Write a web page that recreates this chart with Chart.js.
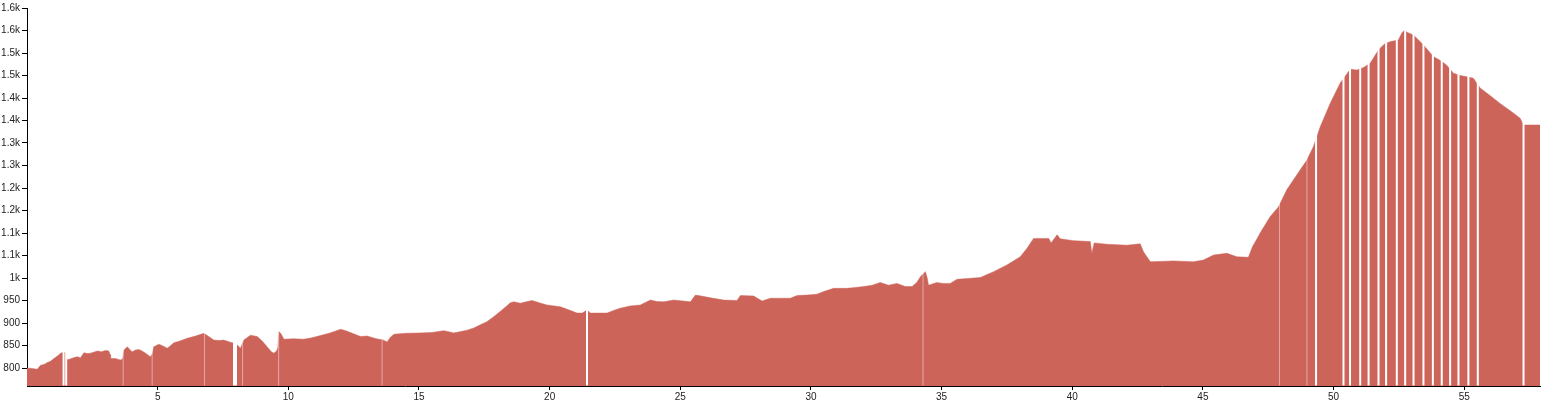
<!DOCTYPE html>
<html>
<head>
<meta charset="utf-8">
<script src="https://cdn.jsdelivr.net/npm/chart.js@4.4.1/dist/chart.umd.min.js"></script>
<style>
  html, body { margin: 0; padding: 0; background: #ffffff; }
  #wrap { width: 1542px; height: 403px; }
</style>
</head>
<body>
<div id="wrap"><canvas id="c" width="1542" height="403"></canvas></div>
<script>
// ---- data (distance in km, elevation in m) ----
const distanceKm = [
  0.00,0.20,0.39,0.52,0.65,0.78,0.90,1.03,1.15,1.29,1.40,1.48,1.52,1.60,1.75,1.92,2.05,2.18,2.30,2.43,
  2.55,2.69,2.85,3.00,3.13,3.18,3.20,3.39,3.50,3.58,3.66,3.71,3.84,3.95,4.03,4.15,4.28,4.40,4.54,4.65,
  4.73,4.80,4.85,5.05,5.20,5.37,5.50,5.62,5.85,6.13,6.45,6.77,6.90,7.15,7.35,7.53,7.75,7.92,8.05,8.17,
  8.30,8.55,8.81,9.00,9.19,9.35,9.45,9.55,9.60,9.64,9.72,9.83,10.20,10.59,10.90,11.23,11.60,12.00,12.20,12.50,
  12.76,13.02,13.30,13.46,13.60,13.78,13.90,14.04,14.50,15.06,15.50,15.95,16.10,16.33,16.60,16.84,17.10,17.35,17.60,17.86,
  18.20,18.50,18.63,18.88,19.10,19.33,19.60,19.90,20.41,20.70,21.05,21.25,21.43,21.56,22.20,22.45,22.70,23.09,23.47,23.86,
  24.10,24.37,24.75,25.10,25.39,25.58,25.80,26.15,26.66,27.17,27.30,27.81,27.95,28.13,28.45,28.80,29.21,29.47,29.85,30.23,
  30.49,30.87,31.38,31.70,32.02,32.35,32.65,32.97,33.29,33.61,33.87,34.05,34.19,34.38,34.45,34.50,34.82,35.05,35.33,35.59,
  36.00,36.48,36.99,37.50,38.01,38.27,38.52,39.10,39.19,39.42,39.54,40.05,40.69,40.75,40.84,41.33,42.09,42.60,42.73,42.99,
  43.87,44.64,45.02,45.41,45.92,46.30,46.74,46.90,47.05,47.19,47.57,47.89,48.21,48.59,48.98,49.23,49.49,49.87,50.25,50.64,
  50.89,51.15,51.40,51.72,51.95,52.16,52.48,52.62,52.70,52.85,53.06,53.44,53.82,54.10,54.33,54.59,54.85,55.10,55.35,55.61,
  56.00,56.37,56.80,57.14,57.27,57.90
];
const elevationM = [
  800,799,797,806,808,812,815,821,826,833,835,835,819,819,822,825,823,834,832,833,
  835,838,836,839,838,830,821,821,819,818,820,840,847,840,836,840,841,838,833,828,
  825,832,847,853,849,844,850,856,860,866,871,877,872,862,861,862,858,855,851,844,
  862,873,870,860,847,836,833,838,845,881,876,864,865,864,867,872,878,886,883,876,
  870,871,866,864,863,858,868,875,877,878,879,883,881,878,881,884,889,896,903,914,
  930,945,947,944,947,950,945,940,936,930,922,922,929,922,922,928,933,938,940,951,
  948,947,951,949,947,962,960,956,951,950,961,960,955,949,955,955,955,961,962,964,
  970,977,977,979,981,984,990,984,988,981,981,990,1003,1014,1000,984,990,988,988,997,
  999,1001,1014,1029,1047,1066,1088,1088,1078,1096,1087,1083,1081,1055,1078,1075,1073,1076,1058,1036,
  1038,1036,1040,1051,1055,1047,1046,1070,1085,1100,1136,1158,1196,1229,1262,1292,1336,1388,1433,1464,
  1462,1468,1477,1507,1520,1525,1529,1545,1550,1545,1540,1518,1492,1483,1473,1455,1450,1447,1444,1422,
  1405,1388,1370,1355,1340,1340
];
// sample gaps visible as white stripes (km)
const gapsStrong = [1.40,1.50,21.43,49.33,50.38,50.63,51.02,51.34,51.72,52.01,52.42,52.74,53.06,53.44,53.80,54.14,54.46,54.78,55.16,55.52,57.27];
const gapsWide = [7.96];
const gapsFaint = [3.68,4.79,6.79,8.25,9.63,13.59,34.29,47.93,48.98];
// axis ticks
const xTickValues = [5,10,15,20,25,30,35,40,45,50,55];
const yTickValues = [800,850,900,950,1000,1050,1100,1150,1200,1250,1300,1350,1400,1450,1500,1550,1600];
const yTickLabels = ['800','850','900','950','1k','1.1k','1.1k','1.2k','1.2k','1.3k','1.3k','1.4k','1.4k','1.5k','1.5k','1.6k','1.6k'];

const Y_MIN = 760, Y_MAX = 1600, X_MIN = 0, X_MAX = 57.9;

const profile = distanceKm.map((d, i) => ({ x: d, y: elevationM[i] }));
const stripes = arr => arr.flatMap(g => [{ x: g, y: Y_MIN + 1 }, { x: g, y: Y_MAX }, { x: g, y: null }]);

const axisColor = '#000000';
const tickFont = { family: '"Liberation Sans", Arial, sans-serif', size: 10 };

new Chart(document.getElementById('c'), {
  type: 'line',
  data: {
    datasets: [
      { data: stripes(gapsStrong), borderColor: '#ffffff', borderWidth: 2, pointRadius: 0, spanGaps: false, fill: false, order: 0 },
      { data: stripes(gapsWide), borderColor: '#ffffff', borderWidth: 4, pointRadius: 0, spanGaps: false, fill: false, order: 0 },
      { data: stripes(gapsFaint), borderColor: 'rgba(255,255,255,0.45)', borderWidth: 1, pointRadius: 0, spanGaps: false, fill: false, order: 0 },
      { data: profile, borderColor: '#CD645A', backgroundColor: '#CD645A', borderWidth: 0.5, pointRadius: 0, tension: 0, fill: 'start', order: 1 }
    ]
  },
  options: {
    responsive: false,
    animation: false,
    events: [],
    layout: { padding: { top: 8, right: 2, bottom: 0, left: 0 } },
    plugins: { legend: { display: false }, tooltip: { enabled: false } },
    scales: {
      x: {
        type: 'linear', min: X_MIN, max: X_MAX,
        afterBuildTicks: s => { s.ticks = xTickValues.map(v => ({ value: v })); },
        afterFit: s => { s.height = 17; },
        grid: { display: true, drawOnChartArea: false, drawTicks: true, tickLength: 4, color: axisColor },
        border: { display: true, color: axisColor, width: 1 },
        ticks: { font: tickFont, color: '#222', padding: 1, maxRotation: 0, autoSkip: false }
      },
      y: {
        type: 'linear', min: Y_MIN, max: Y_MAX,
        afterBuildTicks: s => { s.ticks = yTickValues.map(v => ({ value: v })); },
        afterFit: s => { s.width = 27; },
        grid: { display: true, drawOnChartArea: false, drawTicks: true, tickLength: 5, color: axisColor },
        border: { display: true, color: axisColor, width: 1 },
        ticks: {
          font: tickFont, color: '#222', padding: 2, autoSkip: false,
          callback: v => { const i = yTickValues.indexOf(v); return i >= 0 ? yTickLabels[i] : ''; }
        }
      }
    }
  }
});
</script>
</body>
</html>
